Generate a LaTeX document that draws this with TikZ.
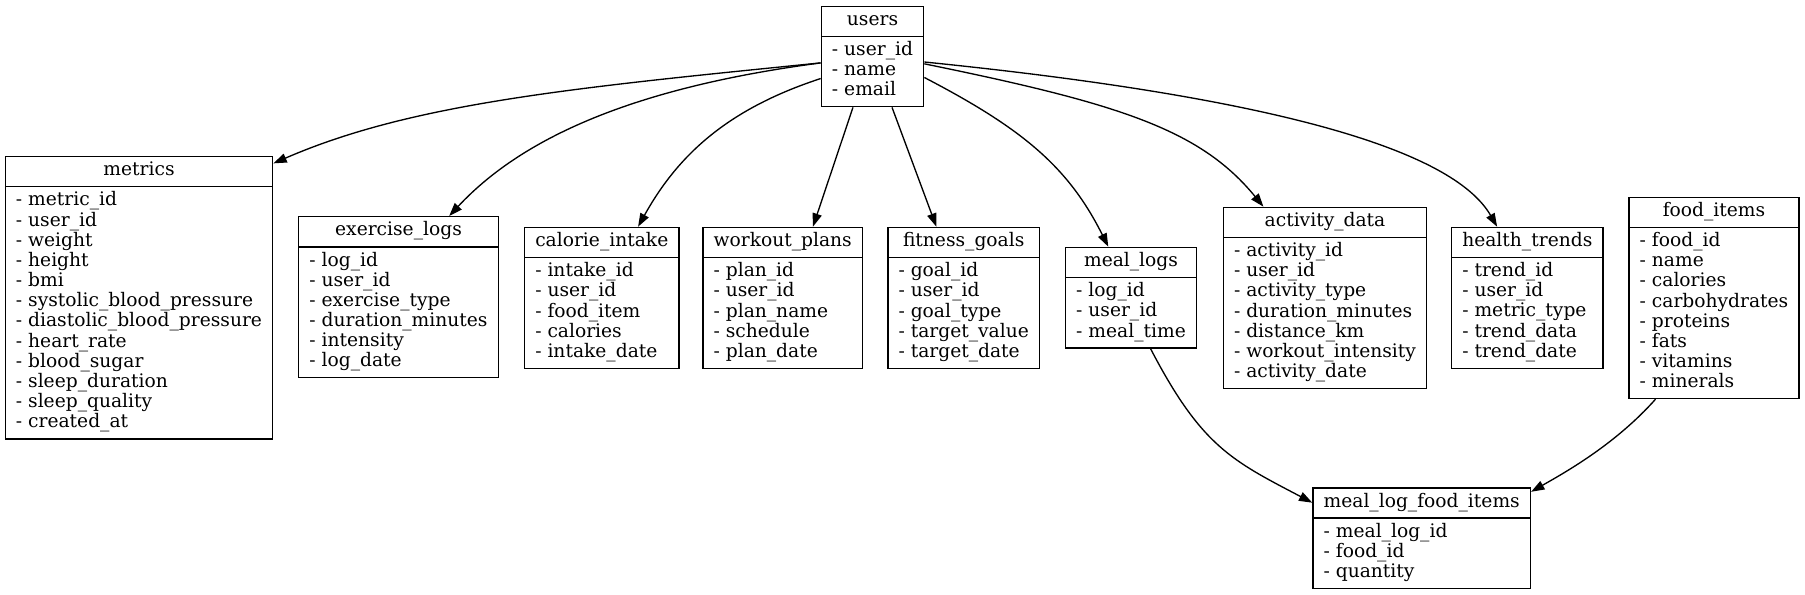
\documentclass[tikz,border=0pt]{standalone}
\usepackage{fontspec}
\setmainfont{DejaVu Serif}
\usetikzlibrary{shapes.multipart,arrows.meta}
\newcommand{\fieldlist}[1]{\begin{tabular}{@{}l@{}}#1\end{tabular}}
\begin{document}
\begin{tikzpicture}[x=0.75pt, y=-0.75pt, line width=1pt,
    table/.style={draw=black, rectangle split, rectangle split parts=2,
        rectangle split part align={center,left}, anchor=north,
        inner xsep=8pt, inner ysep=3.25pt, font=\fontsize{14}{15}\selectfont},
    fk/.style={-{Triangle[length=10pt,width=7pt]}}
]
\useasboundingbox (0,0) rectangle (1805,595);
% --- Tabellen ---
\node[table] (users) at (872.5,5.7) {\strut users
    \nodepart{two}\fieldlist{- user\_id\\- name\\- email}};
\node[table] (metrics) at (139,156) {\strut metrics
    \nodepart{two}\fieldlist{- metric\_id\\- user\_id\\- weight\\- height\\- bmi\\- systolic\_blood\_pressure\\- diastolic\_blood\_pressure\\- heart\_rate\\- blood\_sugar\\- sleep\_duration\\- sleep\_quality\\- created\_at}};
\node[table] (exercise_logs) at (398.5,216) {\strut exercise\_logs
    \nodepart{two}\fieldlist{- log\_id\\- user\_id\\- exercise\_type\\- duration\_minutes\\- intensity\\- log\_date}};
\node[table] (calorie_intake) at (601.8,226.7) {\strut calorie\_intake
    \nodepart{two}\fieldlist{- intake\_id\\- user\_id\\- food\_item\\- calories\\- intake\_date}};
\node[table] (workout_plans) at (782.7,226.7) {\strut workout\_plans
    \nodepart{two}\fieldlist{- plan\_id\\- user\_id\\- plan\_name\\- schedule\\- plan\_date}};
\node[table] (fitness_goals) at (963.7,226.7) {\strut fitness\_goals
    \nodepart{two}\fieldlist{- goal\_id\\- user\_id\\- goal\_type\\- target\_value\\- target\_date}};
\node[table] (meal_logs) at (1131,246.7) {\strut meal\_logs
    \nodepart{two}\fieldlist{- log\_id\\- user\_id\\- meal\_time}};
\node[table] (activity_data) at (1325,206.7) {\strut activity\_data
    \nodepart{two}\fieldlist{- activity\_id\\- user\_id\\- activity\_type\\- duration\_minutes\\- distance\_km\\- workout\_intensity\\- activity\_date}};
\node[table] (health_trends) at (1527.3,226.7) {\strut health\_trends
    \nodepart{two}\fieldlist{- trend\_id\\- user\_id\\- metric\_type\\- trend\_data\\- trend\_date}};
\node[table] (food_items) at (1714,196.7) {\strut food\_items
    \nodepart{two}\fieldlist{- food\_id\\- name\\- calories\\- carbohydrates\\- proteins\\- fats\\- vitamins\\- minerals}};
\node[table] (meal_log_food_items) at (1421.7,487.3) {\strut meal\_log\_food\_items
    \nodepart{two}\fieldlist{- meal\_log\_id\\- food\_id\\- quantity}};
% --- Beziehungen von users ---
\draw[fk] (users.187) .. controls +(-249,25) and +(138,-60) .. (metrics.45);
\draw[fk] (users.187) .. controls +(-198,26) and +(68,-73) .. (exercise_logs.58);
\draw[fk] (users.203) .. controls +(-95,31) and +(39,-70) .. (calorie_intake.63);
\draw[fk] (users.249) -- (workout_plans.67);
\draw[fk] (users.291) -- (fitness_goals.111);
\draw[fk] (users.338) .. controls +(98,51) and +(-40,-80) .. (meal_logs.114);
\draw[fk] (users.352) .. controls +(196,40) and +(-63,-77) .. (activity_data.124);
\draw[fk] (users.354) .. controls +(346,35) and +(-45,-78) .. (health_trends.113);
% --- Zuordnungstabelle ---
\draw[fk] (meal_logs.291) .. controls +(51,98) and +(-80,-42) .. (meal_log_food_items.162);
\draw[fk] (food_items.240) .. controls +(-40,45) and +(35,-20) .. (meal_log_food_items.23);
\end{tikzpicture}
\end{document}
